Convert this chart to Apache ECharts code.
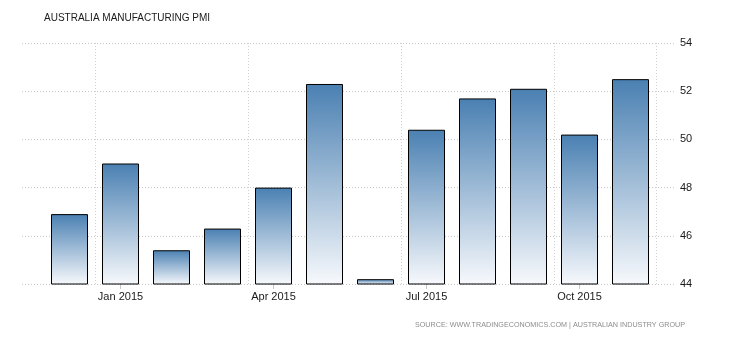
<!DOCTYPE html>
<html><head><meta charset="utf-8">
<script src="https://cdn.jsdelivr.net/npm/echarts@6/dist/echarts.min.js"></script>
<style>html,body{margin:0;padding:0;background:#fff}#c{width:730px;height:340px}</style>
</head><body><div id="c"></div>
<script>
var categories = ['Dec 2014','Jan 2015','Feb 2015','Mar 2015','Apr 2015','May 2015','Jun 2015','Jul 2015','Aug 2015','Sep 2015','Oct 2015','Nov 2015'];
var pmiValues = [46.9, 49.0, 45.4, 46.3, 48.0, 52.3, 44.2, 50.4, 51.7, 52.1, 50.2, 52.5];
var labeledMonths = ['Jan 2015','Apr 2015','Jul 2015','Oct 2015'];
var yTicks = [44, 46, 48, 50, 52, 54];

var chart = echarts.init(document.getElementById('c'), null, {renderer:'canvas'});
var font = 'Liberation Sans, Arial, sans-serif';
chart.setOption({
  animation:false,
  graphic:[
    {type:'text', left:44, top:13, style:{
      text:'AUSTRALIA MANUFACTURING PMI', fontFamily:font, fontSize:10, fill:'#1a1a1a'}},
    {type:'text', right:45, top:322, style:{
      text:'SOURCE: WWW.TRADINGECONOMICS.COM | AUSTRALIAN INDUSTRY GROUP',
      fontFamily:font, fontSize:7.2, fill:'#8c8c8c'}}
  ],
  grid:[
    {left:22, right:54, top:43, bottom:56},
    {left:44, width:612, top:43, bottom:56}
  ],
  xAxis:[
    {gridIndex:0, type:'value', min:0, max:1, show:false},
    {gridIndex:1, type:'category', data:categories, boundaryGap:true,
      axisLine:{show:false},
      axisTick:{show:true, alignWithLabel:true, length:5, lineStyle:{color:'#c8c8c8'},
        interval:function(i,v){return labeledMonths.indexOf(v)>=0;}},
      axisLabel:{interval:function(i,v){return labeledMonths.indexOf(v)>=0;},
        fontFamily:font, fontSize:11, color:'#1a1a1a', margin:7},
      splitLine:{show:true, lineStyle:{color:'#d0d0d0', type:[1,2]},
        interval:function(i,v){return labeledMonths.indexOf(v)>=0;}}
    }
  ],
  yAxis:[
    {gridIndex:0, type:'value', position:'right', min:yTicks[0], max:yTicks[yTicks.length-1], interval:2,
      axisLine:{show:false}, axisTick:{show:false},
      axisLabel:{fontFamily:font, fontSize:11, color:'#1a1a1a', margin:4},
      splitLine:{show:true, lineStyle:{color:'#c8c8c8', type:[1,2]}}},
    {gridIndex:1, type:'value', min:yTicks[0], max:yTicks[yTicks.length-1], show:false}
  ],
  series:[{
    type:'bar', xAxisIndex:1, yAxisIndex:1, data:pmiValues, barWidth:37,
    itemStyle:{borderColor:'#000', borderWidth:1,
      color:new echarts.graphic.LinearGradient(0,0,0,1,[{offset:0,color:'#4a80b2'},{offset:1,color:'#f7f9fc'}])}
  }]
});
</script></body></html>
